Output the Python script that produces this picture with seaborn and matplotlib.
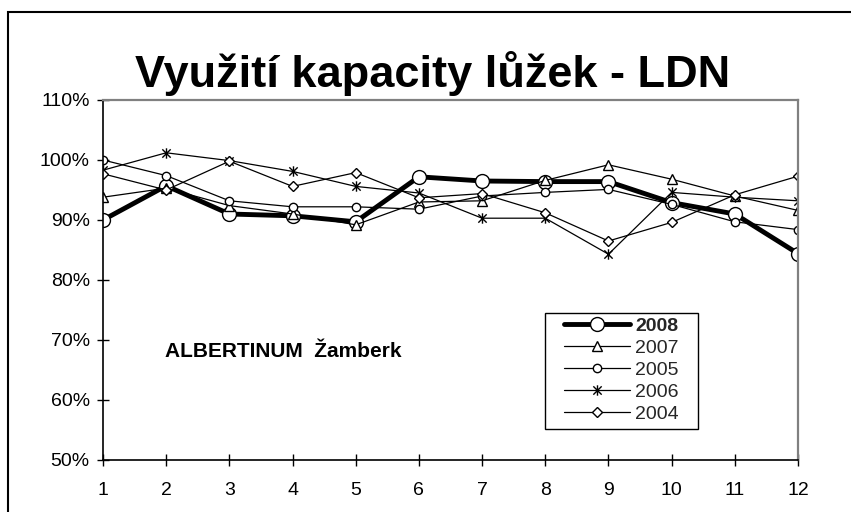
import matplotlib
matplotlib.use("Agg")
import matplotlib.pyplot as plt
from matplotlib.path import Path
from matplotlib.ticker import PercentFormatter
import seaborn as sns

# ── data (utilisation in %, months 1..12) ────────────────────────────────
months = list(range(1, 13))
y2008 = [90.0, 95.7, 91.0, 90.7, 89.7, 97.2, 96.5, 96.4, 96.4, 92.9, 91.0, 84.4]
y2007 = [93.8, 95.3, 92.4, 91.0, 89.2, 93.0, 93.2, 96.6, 99.2, 96.8, 94.0, 91.6]
y2005 = [100.0, 97.4, 93.2, 92.2, 92.2, 91.8, 94.0, 94.6, 95.1, 92.6, 89.7, 88.4]
y2006 = [98.3, 101.2, 99.9, 98.1, 95.6, 94.5, 90.3, 90.3, 84.3, 94.6, 93.8, 93.2]
y2004 = [97.7, 95.0, 99.8, 95.6, 97.9, 93.7, 94.4, 91.2, 86.5, 89.6, 94.2, 97.3]
yticks = [50, 60, 70, 80, 90, 100, 110]

title = "Využití kapacity lůžek - LDN"
note = "ALBERTINUM  Žamberk"

# Excel-style star marker: an X with a vertical bar through it
STAR = Path(
    [(-1, -1), (1, 1), (-1, 1), (1, -1), (0, -1.25), (0, 1.25)],
    [Path.MOVETO, Path.LINETO, Path.MOVETO, Path.LINETO, Path.MOVETO, Path.LINETO],
)

series = [
    ("2008", y2008, "o", 10.0, 3.5),
    ("2007", y2007, "^", 7.0, 0.9),
    ("2005", y2005, "o", 6.0, 0.9),
    ("2006", y2006, STAR, 7.5, 0.9),
    ("2004", y2004, "D", 5.5, 0.9),
]

sns.set_theme(style="white")
plt.rcParams["font.family"] = ["Liberation Sans", "DejaVu Sans"]

fig = plt.figure(figsize=(8.51, 5.12), dpi=100)
ax = fig.add_axes([103 / 851, 1 - 460 / 512, (798 - 103) / 851, 360 / 512])

for name, vals, mk, ms, lw in series:
    sns.lineplot(
        x=months, y=vals, ax=ax, color="black", linewidth=lw,
        marker=mk, markersize=ms, markerfacecolor="white",
        markeredgecolor="black", markeredgewidth=1.0, label=name,
    )

ax.set_xlim(1, 12)
ax.set_ylim(50, 110)
ax.set_xticks(months)
ax.set_yticks(yticks)
ax.yaxis.set_major_formatter(PercentFormatter(decimals=0))
ax.tick_params(axis="both", which="major", direction="inout", length=9,
               width=1, color="black", labelsize=14, labelcolor="black",
               left=True, bottom=True)
ax.tick_params(axis="x", pad=11)
ax.tick_params(axis="y", pad=5)
ax.set_xlabel("")
ax.set_ylabel("")
ax.grid(False)

for side in ["left", "bottom"]:
    ax.spines[side].set_color("black")
    ax.spines[side].set_linewidth(1.2)
for side in ["top", "right"]:
    ax.spines[side].set_color("#808080")
    ax.spines[side].set_linewidth(1.6)

# legend drawn without its own frame; the box is a separate rectangle
leg = ax.legend(loc="upper left", bbox_to_anchor=(564 / 851, 1 - 317 / 512),
                bbox_transform=fig.transFigure, frameon=False,
                fontsize=14, handlelength=3.4, handletextpad=0.25,
                labelspacing=0.23, borderpad=0, borderaxespad=0)
leg.get_texts()[0].set_fontweight("bold")
fig.patches.append(plt.Rectangle((545 / 851, 1 - 429 / 512), 153 / 851, 116 / 512,
                                 transform=fig.transFigure, fill=False,
                                 edgecolor="black", linewidth=1.0))

ax.text(1.98, 67.2, note, fontsize=15, fontweight="bold", va="baseline",
        ha="left", color="black")

fig.text(433 / 851, 1 - 87 / 512, title, fontsize=32.5, fontweight="bold",
         ha="center", va="baseline", color="black")

# outer chart-area frame (cut off on the right and bottom)
fig.patches.append(plt.Rectangle((8 / 851, -0.1), 1.2, 1.1 - 12 / 512,
                                 transform=fig.transFigure, fill=False,
                                 edgecolor="black", linewidth=1.5))

fig.savefig("out.png", dpi=100)
